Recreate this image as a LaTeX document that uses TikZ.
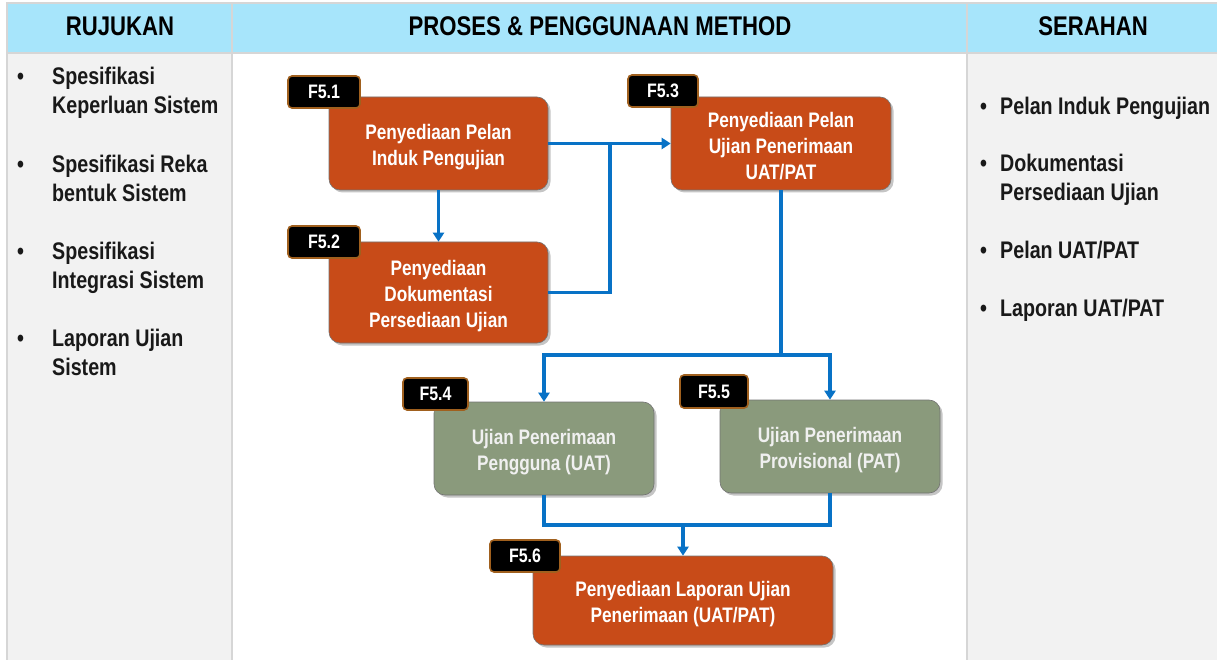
\documentclass[tikz,border=0pt]{standalone}
\usepackage{fontspec}
\setmainfont{Liberation Sans}[FakeStretch=0.82]
\usetikzlibrary{arrows.meta,shadows}
\definecolor{hdr}{HTML}{A7E5FB}
\definecolor{colbg}{HTML}{F2F2F2}
\definecolor{gridc}{HTML}{D6D6D6}
\definecolor{orng}{HTML}{C84B18}
\definecolor{grn}{HTML}{8A9A7C}
\definecolor{brn}{HTML}{A0601E}
\definecolor{blu}{HTML}{0872C6}
\tikzset{
  procbox/.style={rounded corners=11pt, draw=black!55, line width=0.6pt, inner sep=0pt,
    drop shadow={opacity=0.45, shadow xshift=2.5pt, shadow yshift=-2.5pt}},
  orbox/.style={procbox, fill=orng},
  grbox/.style={procbox, fill=grn},
  boxtext/.style={align=center, text=white, font=\bfseries\fontsize{21}{25.8}\selectfont, inner sep=0pt},
  grtext/.style={boxtext, text=white!94!black},
  tagbox/.style={rounded corners=4pt, fill=black, draw=brn, line width=1.6pt, text=white,
    font=\bfseries\fontsize{19.5}{22}\selectfont, inner sep=0pt},
  conn/.style={draw=blu, line width=3.2pt},
  arr/.style={conn, -{Triangle[width=11pt,length=9pt]}},
  hdrtext/.style={font=\bfseries\fontsize{27}{30}\selectfont, text=black},
  listtext/.style={font=\bfseries\fontsize{24}{29}\selectfont, text=black!90, align=left, anchor=north west, inner sep=0pt},
  bullet/.style={font=\bfseries\fontsize{24}{29}\selectfont, text=black!90, anchor=north west, inner sep=0pt}
}
\begin{document}
\begin{tikzpicture}[x=1pt,y=-1pt]
\useasboundingbox (0,0) rectangle (1217,660);
\fill[white] (0,0) rectangle (1217,660);
% columns
\fill[colbg] (7,53) rectangle (232,660);
\fill[colbg] (967,53) rectangle (1217,660);
\fill[hdr] (7,3) rectangle (1217,53);
\draw[gridc, line width=1.2pt] (7,660) -- (7,3) -- (1217,3);
\draw[gridc, line width=1.2pt] (7,53) -- (1217,53);
\draw[gridc, line width=1.2pt] (232,3) -- (232,660);
\draw[gridc, line width=1.2pt] (967,3) -- (967,660);
% headers
\node[hdrtext] (h1) at (120,26) {RUJUKAN};
\node[hdrtext] (h2) at (600,26) {PROSES \& PENGGUNAAN METHOD};
\node[hdrtext] (h3) at (1093,26) {SERAHAN};
% left list
\node[bullet] (b1) at (17,67) {\vphantom{Spfk}•};
\node[listtext] (r1) at (52,67) {Spesifikasi\\Keperluan Sistem};
\node[bullet] (b2) at (17,154.5) {\vphantom{Spfk}•};
\node[listtext] (r2) at (52,154.5) {Spesifikasi Reka\\bentuk Sistem};
\node[bullet] (b3) at (17,241.5) {\vphantom{Spfk}•};
\node[listtext] (r3) at (52,241.5) {Spesifikasi\\Integrasi Sistem};
\node[bullet] (b4) at (17,328.5) {\vphantom{Spfk}•};
\node[listtext] (r4) at (52,328.5) {Laporan Ujian\\Sistem};
% right list
\node[bullet] (c1) at (980,96.5) {\vphantom{Spfk}•};
\node[listtext] (s1) at (1000,96.5) {Pelan Induk Pengujian};
\node[bullet] (c2) at (980,153.5) {\vphantom{Spfk}•};
\node[listtext] (s2) at (1000,153.5) {Dokumentasi\\Persediaan Ujian};
\node[bullet] (c3) at (980,240.5) {\vphantom{Spfk}•};
\node[listtext] (s3) at (1000,240.5) {Pelan UAT/PAT};
\node[bullet] (c4) at (980,298.5) {\vphantom{Spfk}•};
\node[listtext] (s4) at (1000,298.5) {Laporan UAT/PAT};
% process boxes
\node[orbox, minimum width=219pt, minimum height=93pt] (f51) at (438.5,143.5) {};
\node[orbox, minimum width=220pt, minimum height=93pt] (f53) at (781,143.5) {};
\node[orbox, minimum width=219pt, minimum height=101pt] (f52) at (438.5,292.5) {};
\node[grbox, minimum width=220pt, minimum height=93pt] (f54) at (544,448.5) {};
\node[grbox, minimum width=220pt, minimum height=93pt] (f55) at (830,446.5) {};
\node[orbox, minimum width=300pt, minimum height=89pt] (f56) at (683,600.5) {};
\node[boxtext] (x51) at ([yshift=-3.5pt]f51.center) {Penyediaan Pelan\\Induk Pengujian};
\node[boxtext] (x53) at ([yshift=-2.5pt]f53.center) {Penyediaan Pelan\\Ujian Penerimaan\\UAT/PAT};
\node[boxtext] (x52) at ([yshift=-3.5pt]f52.center) {Penyediaan\\Dokumentasi\\Persediaan Ujian};
\node[grtext] (x54) at ([yshift=-3.5pt]f54.center) {Ujian Penerimaan\\Pengguna (UAT)};
\node[grtext] (x55) at ([yshift=-3.5pt]f55.center) {Ujian Penerimaan\\Provisional (PAT)};
\node[boxtext] (x56) at ([yshift=-3.5pt]f56.center) {Penyediaan Laporan Ujian\\Penerimaan (UAT/PAT)};
% tags
\node[tagbox, minimum width=72pt, minimum height=32pt] (t51) at (324,92) {F5.1};
\node[tagbox, minimum width=70pt, minimum height=32pt] (t53) at (663,91) {F5.3};
\node[tagbox, minimum width=72pt, minimum height=32pt] (t52) at (324,242) {F5.2};
\node[tagbox, minimum width=65pt, minimum height=32pt] (t54) at (435.5,394) {F5.4};
\node[tagbox, minimum width=68pt, minimum height=33pt] (t55) at (714,391.5) {F5.5};
\node[tagbox, minimum width=70pt, minimum height=32pt] (t56) at (525,556) {F5.6};
% connectors
\coordinate (j1) at (610,143.5);
\coordinate (j2) at (781,355);
\coordinate (j3) at (683,525);
\draw[arr] (f51.south) -- (f52.north);
\draw[arr] (f51.east) -- (f53.west);
\draw[conn] (f52.east) -| (j1);
\draw[conn] (f53.south) -- (j2);
\draw[arr] (j2) -| (f54.north);
\draw[arr] (j2) -| (f55.north);
\draw[conn] (f54.south) |- (j3) -| (f55.south);
\draw[arr] (j3) -- (f56.north);
\end{tikzpicture}
\end{document}
